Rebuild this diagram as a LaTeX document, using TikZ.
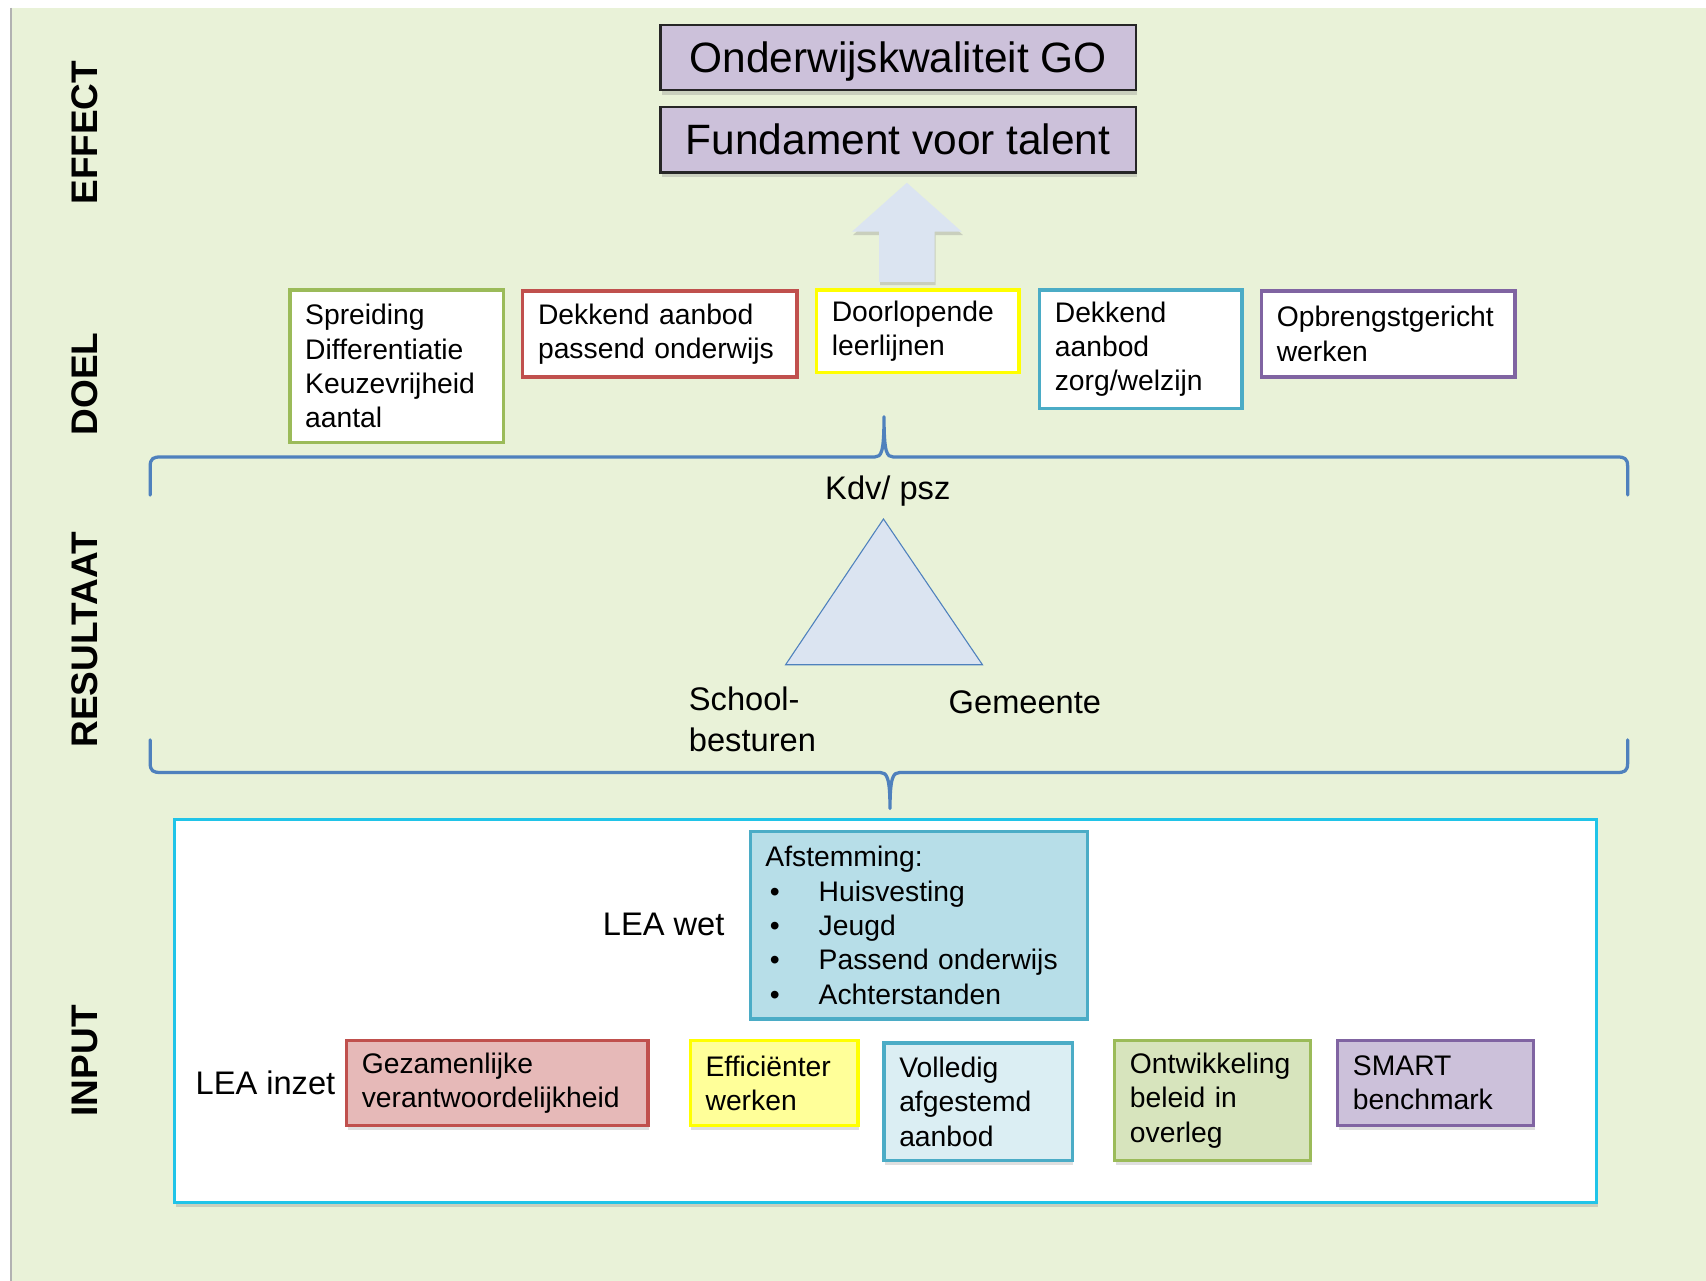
\documentclass[tikz,border=0pt]{standalone}
\usepackage{fontspec}
\setmainfont{Liberation Sans}
\usepackage{xcolor}
\usetikzlibrary{shadows}

\definecolor{bggreen}{RGB}{233,242,216}
\definecolor{lavender}{RGB}{204,193,218}
\definecolor{arrowblue}{RGB}{219,228,241}
\definecolor{braceblue}{RGB}{79,129,189}
\definecolor{goalgreen}{RGB}{155,187,89}
\definecolor{goalred}{RGB}{192,80,77}
\definecolor{goalyellow}{RGB}{255,255,0}
\definecolor{goalteal}{RGB}{75,172,198}
\definecolor{goalpurple}{RGB}{128,100,162}
\definecolor{redfill}{RGB}{230,185,184}
\definecolor{yellowfill}{RGB}{255,255,153}
\definecolor{tealfill}{RGB}{219,238,243}
\definecolor{greenfill}{RGB}{215,228,189}
\definecolor{afstemfill}{RGB}{183,222,232}
\definecolor{framecyan}{RGB}{32,196,232}

\newcommand{\smallfont}{\fontsize{26}{31.5}\selectfont}
\newcommand{\midfont}{\fontsize{30}{38}\selectfont}
\newcommand{\bigfont}{\fontsize{39}{46}\selectfont}
\newcommand{\sidefont}{\fontsize{34}{40}\selectfont\bfseries}

\begin{document}
\begin{tikzpicture}[x=1pt, y=-1pt,
                goal/.style={draw, line width=3pt, fill=white, align=left, inner xsep=14pt, inner ysep=0pt, font=\smallfont},
                inzet/.style={goal, drop shadow={shadow xshift=1pt, shadow yshift=-4pt, opacity=0.25}},
                effect/.style={draw=black!85, line width=2pt, fill=lavender, minimum width=437pt, minimum height=60pt, text depth=0.12em, font=\bigfont, drop shadow={shadow xshift=1pt, shadow yshift=-4pt, opacity=0.3}},
                sidelabel/.style={rotate=90, font=\sidefont},
                freetext/.style={font=\midfont, align=left, inner sep=0pt},
                bracebar/.style={braceblue, line width=3pt, line cap=round, line join=round}
            ]
                \useasboundingbox (0,0) rectangle (1568,1177);
                \fill[bggreen] (10,7) rectangle (1568,1177);
                \draw[black!30, line width=1.5pt] (10,7) -- (10,1177);

                % Side labels
                \node[sidelabel] (effect) at (78,122) {EFFECT};
                \node[sidelabel] (doel) at (78,353) {DOEL};
                \node[sidelabel] (resultaat) at (78,588) {RESULTAAT};
                \node[sidelabel] (input) at (78,975) {INPUT};

                % Effect
                \node[effect] (kwaliteit) at (825.5,53) {Onderwijskwaliteit GO};
                \node[effect] (fundament) at (825.5,128.5) {Fundament voor talent};

                % Block arrow
                \fill[arrowblue, drop shadow={shadow xshift=1pt, shadow yshift=-3pt, opacity=0.3}] (808,259) -- (808,213) -- (783,213) -- (833.5,168) -- (884,213) -- (859,213) -- (859,259) -- cycle;

                % Doel
                \node[goal, draw=goalgreen, text width=168pt, minimum height=140pt] (spreiding) at (364.5,336.5) {Spreiding\\Differentiatie\\Keuzevrijheid\\aantal};
                \node[goal, draw=goalred, text width=224pt, minimum height=79pt] (dekkend) at (606.5,307) {Dekkend aanbod\\passend onderwijs};
                \node[goal, draw=goalyellow, text width=158pt, minimum height=76pt] (leerlijnen) at (843.5,304.5) {Doorlopende\\leerlijnen};
                \node[goal, draw=goalteal, text width=158pt, minimum height=109pt] (zorg) at (1048.5,321) {Dekkend\\aanbod\\zorg/welzijn};
                \node[goal, draw=goalpurple, text width=205pt, minimum height=79pt] (opbrengst) at (1276,307) {Opbrengstgericht\\werken};

                % Braces
                \draw[bracebar] (138,455) -- (138,429) .. controls (138,421) and (141,420) .. (148,420) -- (804,420) .. controls (810,420) and (812.5,416) .. (812.5,383) .. controls (812.5,416) and (815,420) .. (821,420) -- (1486,420) .. controls (1493,420) and (1496,421) .. (1496,429) -- (1496,455);
                \draw[bracebar] (138,680) -- (138,701) .. controls (138,709) and (141,710) .. (148,710) -- (809,710) .. controls (815,710) and (818,714) .. (818,743) .. controls (818,714) and (821,710) .. (827,710) -- (1486,710) .. controls (1493,710) and (1496,709) .. (1496,701) -- (1496,680);

                % Resultaat
                \node[freetext] (kdv) at (816,451) {Kdv/ psz};
                \draw[braceblue, line width=1pt, fill=arrowblue] (812,477) -- (903,611) -- (722,611) -- cycle;
                \node[freetext, anchor=west] (school) at (633,661) {School-\\besturen};
                \node[freetext] (gemeente) at (942,645) {Gemeente};

                % Input
                \node[draw=framecyan, line width=3pt, fill=white, minimum width=1307pt, minimum height=352pt, drop shadow={shadow xshift=1pt, shadow yshift=-4pt, opacity=0.3}] (inputframe) at (814,929.5) {};
                \node[freetext] (leawet) at (610,850) {LEA wet};
                \node[goal, draw=goalteal, fill=afstemfill, text width=282pt, minimum height=172pt] (afstem) at (844.5,850.5) {Afstemming:\\\hspace*{4pt}\makebox[45pt][l]{\textbullet}Huisvesting\\\hspace*{4pt}\makebox[45pt][l]{\textbullet}Jeugd\\\hspace*{4pt}\makebox[45pt][l]{\textbullet}Passend onderwijs\\\hspace*{4pt}\makebox[45pt][l]{\textbullet}Achterstanden};
                \node[freetext] (leainzet) at (244,995) {LEA inzet};
                \node[inzet, draw=goalred, fill=redfill, text width=249pt, minimum height=78pt] (gezamenlijk) at (457,995.5) {Gezamenlijke\\verantwoordelijkheid};
                \node[inzet, draw=goalyellow, fill=yellowfill, text width=126pt, minimum height=78pt] (efficient) at (711.5,995.5) {Efficiënter\\werken};
                \node[inzet, draw=goalteal, fill=tealfill, text width=145pt, minimum height=108pt] (volledig) at (899,1012.5) {Volledig\\afgestemd\\aanbod};
                \node[inzet, draw=goalgreen, fill=greenfill, text width=152pt, minimum height=110pt] (beleid) at (1114.5,1011.5) {Ontwikkeling\\beleid in\\overleg};
                \node[inzet, draw=goalpurple, fill=lavender, text width=152pt, minimum height=78pt] (smart) at (1319.5,995.5) {SMART\\benchmark};
            \end{tikzpicture}
\end{document}
